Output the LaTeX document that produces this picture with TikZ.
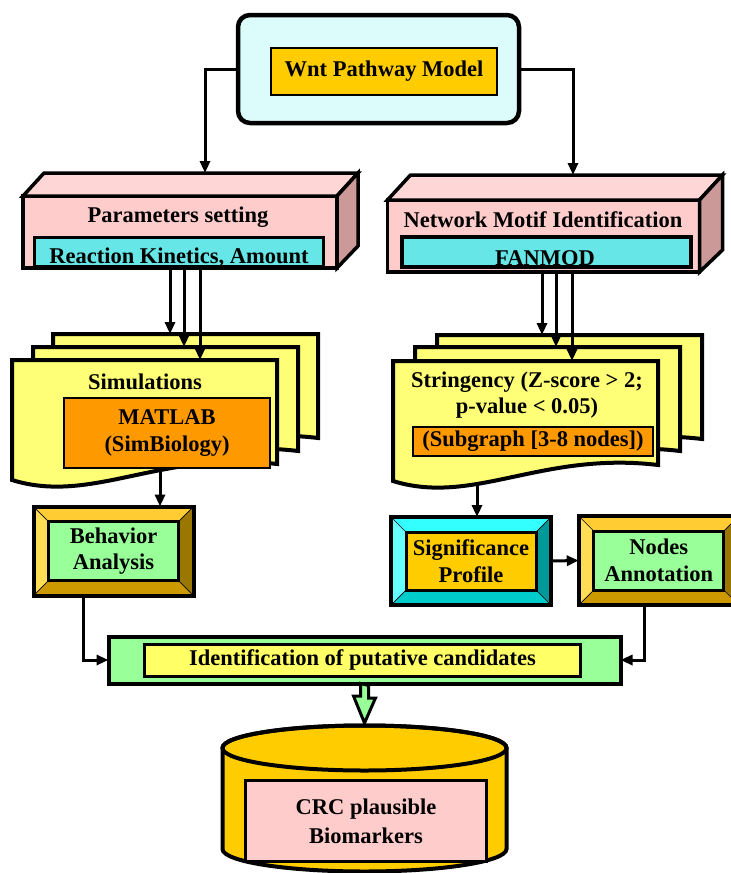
\documentclass[tikz,border=0pt]{standalone}
\usepackage{fontspec}
\setmainfont{Liberation Serif}
\usetikzlibrary{arrows.meta}

\definecolor{skyfill}{RGB}{220,252,252}
\definecolor{goldfill}{RGB}{255,204,0}
\definecolor{rosefront}{RGB}{255,204,204}
\definecolor{rosetop}{RGB}{255,214,214}
\definecolor{roseside}{RGB}{204,153,153}
\definecolor{tealfill}{RGB}{102,230,230}
\definecolor{pagefill}{RGB}{255,255,119}
\definecolor{orangefill}{RGB}{255,153,0}
\definecolor{mintfill}{RGB}{153,255,153}
\definecolor{lemonfill}{RGB}{255,255,102}
\definecolor{pinkfill}{RGB}{255,204,204}
\definecolor{goldT}{RGB}{255,204,51}
\definecolor{goldL}{RGB}{255,221,85}
\definecolor{goldR}{RGB}{153,119,0}
\definecolor{goldB}{RGB}{204,153,0}
\definecolor{cyanT}{RGB}{51,255,255}
\definecolor{cyanL}{RGB}{102,255,255}
\definecolor{cyanR}{RGB}{0,153,153}
\definecolor{cyanB}{RGB}{0,204,204}

% a page of a stacked document, with a wavy lower edge
\newcommand\docpage[1]{%
  \path[page] (#1.north west) -- (#1.north east) -- (#1.south east)
    .. controls +(-116,-14) and +(80,25) .. ([yshift=-16pt]#1.south west) -- cycle;}

% bevelled frame around a plain node: four shaded strips and a heavy rim
\newcommand\bevelfill[5]{%
  \path (#1.north west) ++(15,15) coordinate (#1-nw)
        (#1.north east) ++(-15,15) coordinate (#1-ne)
        (#1.south east) ++(-15,-15) coordinate (#1-se)
        (#1.south west) ++(15,-15) coordinate (#1-sw);
  \fill[#2] (#1.north west) -- (#1.north east) -- (#1-ne) -- (#1-nw) -- cycle;
  \fill[#3] (#1.north west) -- (#1-nw) -- (#1-sw) -- (#1.south west) -- cycle;
  \fill[#4] (#1.north east) -- (#1.south east) -- (#1-se) -- (#1-ne) -- cycle;
  \fill[#5] (#1.south west) -- (#1-sw) -- (#1-se) -- (#1.south east) -- cycle;
  \draw[line width=0.7pt] (#1.north west) -- (#1-nw) (#1.north east) -- (#1-ne)
        (#1.south east) -- (#1-se) (#1.south west) -- (#1-sw);
  \draw[line width=4pt] (#1.north west) rectangle (#1.south east);}

\begin{document}
\begin{tikzpicture}[x=1pt,y=-1pt,
  every node/.style={inner sep=0pt, outer sep=0pt,
    font=\bfseries\fontsize{22.5}{26.5}\selectfont},
  link/.style={line width=3pt, -{Triangle[length=12pt,width=10pt]}},
  boxedge/.style={draw, line width=3.5pt, line join=miter},
  plate/.style={draw=none, rectangle},
  pagenode/.style={plate, minimum width=265pt, minimum height=104pt, anchor=north west},
  page/.style={draw, line width=4pt, fill=pagefill},
  panel/.style={draw, line width=3pt, align=center},
]
\useasboundingbox (0,0) rectangle (731,873);
\clip (0,0) rectangle (731,873);

% ---- model ----
\node[draw, line width=4.5pt, rounded corners=12pt, fill=skyfill,
      minimum width=281pt, minimum height=108pt] (wntframe) at (378.5,69) {};
\node[draw, line width=2pt, fill=goldfill, minimum width=226pt, minimum height=47pt]
      (wnt) at (384,71.5) {Wnt Pathway Model};

% ---- parameters block ----
\node[boxedge, fill=rosefront, minimum width=314pt, minimum height=72pt] (params) at (180,232) {};
\filldraw[boxedge, fill=rosetop] (params.north west) -- ++(21,-23) -- ++(314,0) -- (params.north east) -- cycle;
\filldraw[boxedge, fill=roseside] (params.north east) -- ++(21,-23) -- ++(0,73) -- (params.south east) -- cycle;
\node (paramslabel) at (178,217) {Parameters setting};
\node[draw, line width=3.5pt, fill=tealfill, minimum width=289pt, minimum height=29.5pt] (kinetics) at (179,252) {};
\node[anchor=base] (kineticslabel) at (179,263) {Reaction Kinetics, Amount};
\coordinate (paramstop) at ([shift={(25,-23)}]params.north);

% ---- motif block ----
\node[boxedge, fill=rosefront, minimum width=312pt, minimum height=72pt] (motif) at (543.5,236) {};
\filldraw[boxedge, fill=rosetop] (motif.north west) -- ++(23,-25) -- ++(312,0) -- (motif.north east) -- cycle;
\filldraw[boxedge, fill=roseside] (motif.north east) -- ++(23,-25) -- ++(0,75) -- (motif.south east) -- cycle;
\node (motiflabel) at (543,220) {Network Motif Identification};
\node[draw, line width=3.5pt, fill=tealfill, minimum width=289pt, minimum height=30pt] (fanmod) at (546.5,252) {};
\node[anchor=base] (fanmodlabel) at (545,265) {FANMOD};
\coordinate (motiftop) at ([shift={(29.5,-25)}]motif.north);

\draw[link] (wntframe.west) -| (paramstop);
\draw[link] (wntframe.east) -| (motiftop);

% ---- bevelled result boxes ----
\node[plate, minimum width=160pt, minimum height=89pt] (behframe) at (113.5,551) {};
\bevelfill{behframe}{goldT}{goldL}{goldR}{goldB}
\node[panel, fill=mintfill, minimum width=130pt, minimum height=59pt] (beh) at (behframe) {Behavior\\Analysis};

\node[plate, minimum width=160pt, minimum height=88pt] (sigframe) at (471,561) {};
\bevelfill{sigframe}{cyanT}{cyanL}{cyanR}{cyanB}
\node[panel, fill=goldfill, minimum width=130pt, minimum height=58pt] (sig) at (sigframe) {Significance\\Profile};

\node[plate, minimum width=160pt, minimum height=89pt] (nannframe) at (658.75,560.5) {};
\bevelfill{nannframe}{goldT}{goldL}{goldR}{goldB}
\node[panel, fill=mintfill, minimum width=130pt, minimum height=59pt] (nann) at (nannframe) {Nodes\\Annotation};

% ---- candidate identification ----
\node[draw, line width=4pt, fill=mintfill, minimum width=512pt, minimum height=47pt] (identframe) at (364.5,660) {};
\node[panel, fill=lemonfill, minimum width=436pt, minimum height=32pt] (ident) at (362.5,660) {Identification of putative candidates};

% ---- biomarker store ----
\filldraw[fill=goldfill, line width=4pt] (222.5,748) -- (222.5,849)
  arc[start angle=180, end angle=360, x radius=142pt, y radius=22.5pt] -- (506.5,748)
  arc[start angle=0, end angle=180, x radius=142pt, y radius=22.5pt] -- cycle;
\draw[line width=4pt] (364.5,748) ellipse [x radius=142pt, y radius=22.5pt];
\coordinate (cyltop) at (364.5,723);
\node[panel, line width=3.5pt, fill=pinkfill, minimum width=241pt, minimum height=81pt,
      font=\bfseries\fontsize{22.5}{29}\selectfont] (crc) at (366,821) {CRC plausible\\Biomarkers};

\filldraw[fill=mintfill, line width=3pt] ([xshift=-4pt]identframe.south) -- ++(0,12.5) -- ++(-7,0)
  -- (cyltop) -- ++(11,-25) -- ++(-7,0) -- ++(0,-12.5) -- cycle;

% ---- document stacks (outgoing links first, hidden under the pages) ----
\node[pagenode] (simA) at (53,334) {};
\node[pagenode] (simB) at (33,347) {};
\node[pagenode] (simC) at (12,360) {};
\node[pagenode] (strA) at (437,335) {};
\node[pagenode] (strB) at (415,347) {};
\node[pagenode] (strC) at (393,361) {};

\draw[link] ([xshift=46.5pt]behframe.north |- simC.center) -- ([xshift=46.5pt]behframe.north);
\draw[link] ([xshift=6pt]sigframe.north |- strC.center) -- ([xshift=6pt]sigframe.north);

\docpage{simA}\docpage{simB}\docpage{simC}
\docpage{strA}\docpage{strB}\docpage{strC}

\node (simlabel) at (145,382) {Simulations};
\node[panel, line width=2.5pt, fill=orangefill, minimum width=206pt, minimum height=70pt] (matlab) at (167,433) {MATLAB\\(SimBiology)};

\node[align=center] (stringency) at (527,395) {Stringency (Z-score > 2;\\p-value < 0.05)};
\node[panel, line width=2.5pt, fill=orangefill, minimum width=240pt, minimum height=29pt] (subgraph) at (533,441.5) {(Subgraph [3-8 nodes])};

\foreach \dx/\pg in {-10/simA, 4/simB, 20/simC}
  \draw[link] ([xshift=\dx pt]params.south) -- ([xshift=\dx pt]params.south |- \pg.north);
\foreach \dx/\pg in {-1.5/strA, 12.5/strB, 28.5/strC}
  \draw[link] ([xshift=\dx pt]motif.south) -- ([xshift=\dx pt]motif.south |- \pg.north);

% ---- remaining links ----
\draw[link] (sigframe.east) -- (nannframe.west);
\draw[link] ([xshift=-30.5pt]behframe.south) |- (identframe.west);
\draw[link] ([xshift=-14pt]nannframe.south) |- (identframe.east);
\end{tikzpicture}
\end{document}
